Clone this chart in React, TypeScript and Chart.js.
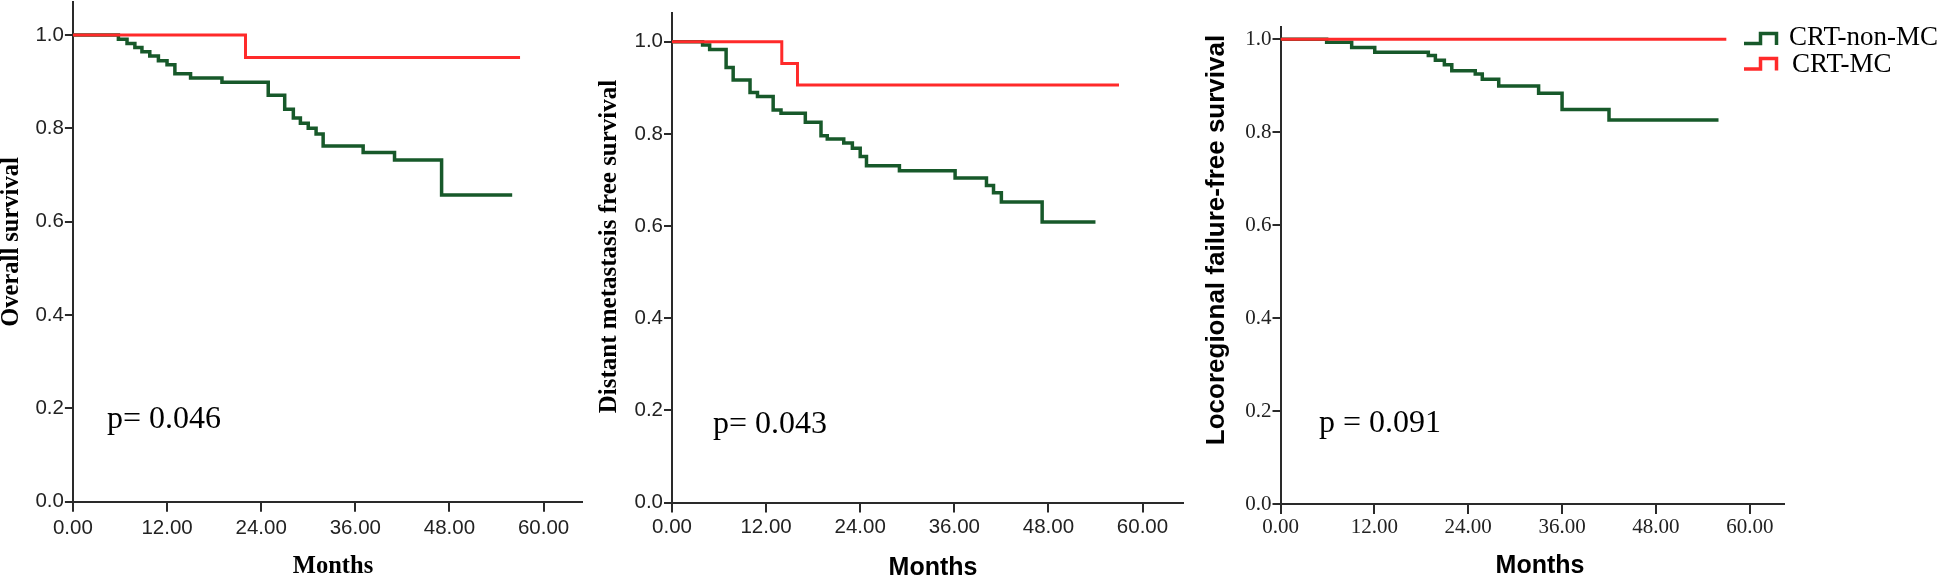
import React, { useEffect, useRef } from 'react';
import { Chart, registerables } from 'chart.js';

Chart.register(...registerables);

// ---------- Data (months, survival probability) ----------
// Panel 1: Overall survival
const OS_NON_MC_MONTHS = [0, 5.8, 6.9, 7.9, 8.8, 9.8, 10.9, 12.0, 13.0, 15.0, 19.0, 24.9, 27.0, 28.1, 29.0, 30.0, 31.0, 31.9, 37.0, 41.0, 47.0, 56.0];
const OS_NON_MC_SURV = [1, 0.991, 0.982, 0.973, 0.964, 0.955, 0.945, 0.936, 0.917, 0.908, 0.899, 0.871, 0.841, 0.822, 0.811, 0.8, 0.788, 0.762, 0.748, 0.732, 0.657, 0.657];
const OS_MC_MONTHS = [0, 22.0, 57.0];
const OS_MC_SURV = [1, 0.952, 0.952];

// Panel 2: Distant metastasis free survival
const DMFS_NON_MC_MONTHS = [0, 3.9, 4.8, 6.9, 7.8, 9.95, 10.9, 12.9, 13.9, 17.0, 19.0, 19.8, 21.9, 23.0, 24.0, 24.8, 29.0, 36.1, 40.1, 41.0, 42.0, 47.2, 54.0];
const DMFS_NON_MC_SURV = [1, 0.993, 0.983, 0.944, 0.917, 0.89, 0.881, 0.852, 0.845, 0.825, 0.796, 0.789, 0.78, 0.769, 0.751, 0.731, 0.72, 0.704, 0.688, 0.672, 0.652, 0.609, 0.609];
const DMFS_MC_MONTHS = [0, 14.0, 16.0, 57.0];
const DMFS_MC_SURV = [1, 0.953, 0.906, 0.906];

// Panel 3: Locoregional failure-free survival
const LRFFS_NON_MC_MONTHS = [0, 5.9, 9.1, 12.05, 18.9, 19.8, 20.95, 21.9, 24.9, 25.8, 27.9, 33.0, 36.0, 42.0, 56.0];
const LRFFS_NON_MC_SURV = [1, 0.9935, 0.982, 0.972, 0.965, 0.955, 0.945, 0.932, 0.925, 0.914, 0.8995, 0.884, 0.849, 0.826, 0.826];
const LRFFS_MC_MONTHS = [0, 57.0];
const LRFFS_MC_SURV = [1, 1];

const X_TICKS = [0, 12, 24, 36, 48, 60];
const Y_TICKS = [0, 0.2, 0.4, 0.6, 0.8, 1.0];

const SERIES_NAMES = ['CRT-non-MC', 'CRT-MC'];
const P_VALUES = ['p= 0.046', 'p= 0.043', 'p = 0.091'];
const Y_TITLES = ['Overall survival', 'Distant metastasis free survival', 'Locoregional failure-free survival'];
const X_TITLE = 'Months';

// ---------- Styles / layout ----------
const W = 1946;
const H = 578;
const GREEN = '#17592a';
const RED = '#ff2a2a';
const AXIS = '#2a2a2a';
const YW = 60;
const XH = 50;

const toPts = (t: number[], s: number[]) => t.map((x, i) => ({ x, y: s[i] }));

type PanelCfg = {
  area: { left: number; right: number; top: number; bottom: number };
  xMax: number;
  yMax: number;
  tickFont: { family: string; size: number };
  xTickPad: number;
  nonMc: { x: number; y: number }[];
  mc: { x: number; y: number }[];
  yTitle: string;
  yTitleFont: string;
  yTitlePos: [number, number];
  xTitleFont: string;
  xTitlePos: [number, number];
  pText: string;
  pPos: [number, number];
  legend?: boolean;
};

const PANELS: PanelCfg[] = [
  {
    area: { left: 72.9, right: 581.7, top: 2, bottom: 501.7 },
    xMax: 64.86,
    yMax: 1.0707,
    tickFont: { family: "'Liberation Sans', Arial, sans-serif", size: 20.5 },
    xTickPad: 4,
    nonMc: toPts(OS_NON_MC_MONTHS, OS_NON_MC_SURV),
    mc: toPts(OS_MC_MONTHS, OS_MC_SURV),
    yTitle: Y_TITLES[0],
    yTitleFont: "bold 24.5px 'Liberation Serif', 'Times New Roman', serif",
    yTitlePos: [18, 242],
    xTitleFont: "bold 24.5px 'Liberation Serif', 'Times New Roman', serif",
    xTitlePos: [333, 573],
    pText: P_VALUES[0],
    pPos: [107, 428],
  },
  {
    area: { left: 672, right: 1183.3, top: 12.7, bottom: 502.5 },
    xMax: 65.2,
    yMax: 1.063,
    tickFont: { family: "'Liberation Sans', Arial, sans-serif", size: 20.5 },
    xTickPad: 3,
    nonMc: toPts(DMFS_NON_MC_MONTHS, DMFS_NON_MC_SURV),
    mc: toPts(DMFS_MC_MONTHS, DMFS_MC_SURV),
    yTitle: Y_TITLES[1],
    yTitleFont: "bold 25px 'Liberation Serif', 'Times New Roman', serif",
    yTitlePos: [616, 246.5],
    xTitleFont: "bold 25px 'Liberation Sans', Arial, sans-serif",
    xTitlePos: [933, 575],
    pText: P_VALUES[1],
    pPos: [713, 433],
  },
  {
    area: { left: 1280.5, right: 1784.2, top: 26.7, bottom: 504 },
    xMax: 64.4,
    yMax: 1.027,
    tickFont: { family: "'Liberation Serif', 'Times New Roman', serif", size: 21 },
    xTickPad: 1,
    nonMc: toPts(LRFFS_NON_MC_MONTHS, LRFFS_NON_MC_SURV),
    mc: toPts(LRFFS_MC_MONTHS, LRFFS_MC_SURV),
    yTitle: Y_TITLES[2],
    yTitleFont: "bold 26px 'Liberation Sans', Arial, sans-serif",
    yTitlePos: [1223.5, 240],
    xTitleFont: "bold 25px 'Liberation Sans', Arial, sans-serif",
    xTitlePos: [1540, 573],
    pText: P_VALUES[2],
    pPos: [1319, 431.7],
    legend: true,
  },
];

function drawStepIcon(ctx: CanvasRenderingContext2D, x: number, yLow: number, yHigh: number, color: string) {
  ctx.save();
  ctx.strokeStyle = color;
  ctx.lineWidth = 3.5;
  ctx.lineJoin = 'miter';
  ctx.beginPath();
  ctx.moveTo(x, yLow);
  ctx.lineTo(x + 16.5, yLow);
  ctx.lineTo(x + 16.5, yHigh);
  ctx.lineTo(x + 32.5, yHigh);
  ctx.lineTo(x + 32.5, yLow + 1.5);
  ctx.stroke();
  ctx.restore();
}

function makeTextPlugin(p: PanelCfg) {
  return {
    id: 'panelText',
    afterDraw(chart: any) {
      const ctx: CanvasRenderingContext2D = chart.ctx;
      ctx.save();
      ctx.fillStyle = '#000';
      // y title
      ctx.save();
      ctx.font = p.yTitleFont;
      ctx.translate(p.yTitlePos[0], p.yTitlePos[1]);
      ctx.rotate(-Math.PI / 2);
      ctx.textAlign = 'center';
      ctx.textBaseline = 'alphabetic';
      ctx.fillText(p.yTitle, 0, 0);
      ctx.restore();
      // x title
      ctx.font = p.xTitleFont;
      ctx.textAlign = 'center';
      ctx.textBaseline = 'alphabetic';
      ctx.fillText(X_TITLE, p.xTitlePos[0], p.xTitlePos[1]);
      // p value
      ctx.font = "32px 'Liberation Serif', 'Times New Roman', serif";
      ctx.textAlign = 'left';
      ctx.fillText(p.pText, p.pPos[0], p.pPos[1]);
      // legend
      if (p.legend) {
        drawStepIcon(ctx, 1744, 43.5, 33.5, GREEN);
        drawStepIcon(ctx, 1744, 69, 58.5, RED);
        ctx.fillStyle = '#000';
        ctx.font = "27px 'Liberation Serif', 'Times New Roman', serif";
        ctx.textAlign = 'left';
        ctx.fillText(SERIES_NAMES[0], 1789, 45);
        ctx.fillText(SERIES_NAMES[1], 1792, 71.5);
      }
      ctx.restore();
    },
  };
}

const zeroPad = (s: any) => {
  s.paddingTop = 0;
  s.paddingBottom = 0;
  s.paddingLeft = 0;
  s.paddingRight = 0;
};

function Panel({ cfg }: { cfg: PanelCfg }) {
  const ref = useRef<HTMLCanvasElement>(null);
  useEffect(() => {
    if (!ref.current) return;
    const a = cfg.area;
    const chart = new Chart(ref.current, {
      type: 'line',
      data: {
        datasets: [
          {
            label: SERIES_NAMES[1],
            data: cfg.mc,
            borderColor: RED,
            borderWidth: 3,
            stepped: 'before',
            pointRadius: 0,
            fill: false,
            order: 0,
          },
          {
            label: SERIES_NAMES[0],
            data: cfg.nonMc,
            borderColor: GREEN,
            borderWidth: 3.5,
            stepped: 'before',
            pointRadius: 0,
            fill: false,
            order: 1,
          },
        ],
      },
      options: {
        responsive: false,
        maintainAspectRatio: false,
        animation: false,
        devicePixelRatio: 1,
        events: [],
        layout: {
          autoPadding: false,
          padding: {
            left: a.left - YW,
            right: W - a.right,
            top: a.top,
            bottom: H - a.bottom - XH,
          },
        },
        plugins: {
          legend: { display: false },
          tooltip: { enabled: false },
          title: { display: false },
        },
        scales: {
          x: {
            type: 'linear',
            min: 0,
            max: cfg.xMax,
            afterFit: (s: any) => {
              s.height = XH;
              zeroPad(s);
            },
            afterBuildTicks: (s: any) => {
              s.ticks = X_TICKS.map((v) => ({ value: v }));
            },
            ticks: {
              callback: (v: any) => Number(v).toFixed(2),
              font: cfg.tickFont,
              color: '#222',
              padding: cfg.xTickPad,
              maxRotation: 0,
              autoSkip: false,
            },
            grid: {
              display: true,
              drawOnChartArea: false,
              drawTicks: true,
              tickLength: 10,
              color: AXIS,
              lineWidth: 2,
            },
            border: { display: true, color: AXIS, width: 2 },
          },
          y: {
            type: 'linear',
            min: 0,
            max: cfg.yMax,
            afterFit: (s: any) => {
              s.width = YW;
              zeroPad(s);
            },
            afterBuildTicks: (s: any) => {
              s.ticks = Y_TICKS.map((v) => ({ value: v }));
            },
            ticks: {
              callback: (v: any) => Number(v).toFixed(1),
              font: cfg.tickFont,
              color: '#222',
              padding: 1,
              autoSkip: false,
            },
            grid: {
              display: true,
              drawOnChartArea: false,
              drawTicks: true,
              tickLength: 8,
              color: AXIS,
              lineWidth: 2,
            },
            border: { display: true, color: AXIS, width: 2 },
          },
        },
      },
      plugins: [makeTextPlugin(cfg)],
    } as any);
    return () => chart.destroy();
  }, [cfg]);
  return (
    <canvas
      ref={ref}
      width={W}
      height={H}
      style={{ position: 'absolute', left: 0, top: 0, width: W, height: H }}
    />
  );
}

export default function App() {
  useEffect(() => {
    document.body.style.margin = '0';
    document.body.style.background = '#fff';
  }, []);
  return (
    <div style={{ position: 'relative', width: W, height: H, background: '#fff', overflow: 'hidden' }}>
      {PANELS.map((p, i) => (
        <Panel key={i} cfg={p} />
      ))}
    </div>
  );
}
